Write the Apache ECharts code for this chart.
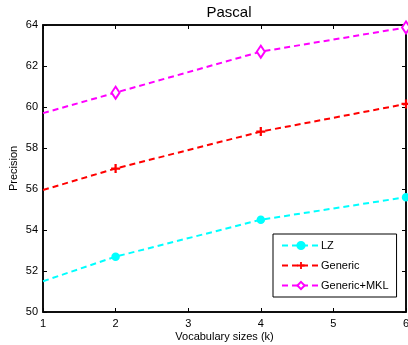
<!DOCTYPE html>
<html><head><meta charset="utf-8">
<script src="https://cdn.jsdelivr.net/npm/echarts@6/dist/echarts.min.js"></script>
<style>html,body{margin:0;padding:0;background:#fff}#c{width:408px;height:345px}</style>
</head><body><div id="c"></div>
<script>
var vocab = [1, 2, 4, 6];
var lz = [51.5, 52.7, 54.5, 55.6];
var generic = [55.95, 57.0, 58.8, 60.15];
var mkl = [59.7, 60.7, 62.7, 63.88];
var xTicks = [1, 2, 3, 4, 5, 6];
var yTicks = [50, 52, 54, 56, 58, 60, 62, 64];

var FONT = '"Liberation Sans", Arial, sans-serif';
var plus = 'path://M3,0H5V3H8V5H5V8H3V5H0V3H3Z';
function mk(xs, ys) {
  return xs.map(function (x, i) {
    var d = { value: [x, ys[i]] };
    if (i === 0) d.symbol = 'none';
    return d;
  });
}
function ser(name, ys, color, symbol, size, extra) {
  var s = {
    name: name, type: 'line', data: mk(vocab, ys),
    symbol: symbol, symbolSize: size, showAllSymbol: true,
    lineStyle: { color: color, width: 2, type: [6, 4] },
    itemStyle: { color: color, borderColor: color, borderWidth: 1.5 },
    emphasis: { disabled: true }, z: 3
  };
  for (var k in extra) s[k] = extra[k];
  return s;
}
var chart = echarts.init(document.getElementById('c'), null, { renderer: 'canvas' });
var axLine = { show: true, lineStyle: { color: '#000', width: 1.5 } };
chart.setOption({
  animation: false,
  textStyle: { fontFamily: FONT },
  title: { text: 'Pascal', left: 224, textAlign: 'center', top: 0,
    textStyle: { fontFamily: FONT, fontSize: 15, fontWeight: 'normal', color: '#000' } },
  grid: { left: 43, right: 2, top: 25, bottom: 33, show: true, borderColor: '#000', borderWidth: 1.5,
    containLabel: false, outerBoundsMode: 'none' },
  xAxis: [{
    type: 'value', min: 1, max: 6, interval: 1, position: 'bottom',
    axisLine: axLine, splitLine: { show: false },
    axisTick: { inside: true, length: 4, lineStyle: { color: '#000' } },
    axisLabel: { color: '#000', fontSize: 11, fontFamily: FONT, margin: 6,
      formatter: function (v) { return xTicks.indexOf(v) >= 0 ? String(v) : ''; } },
    name: 'Vocabulary sizes (k)', nameLocation: 'middle', nameGap: 19, nameMoveOverlap: false,
    nameTextStyle: { color: '#000', fontSize: 11, fontFamily: FONT }
  }, {
    type: 'value', min: 1, max: 6, interval: 1, position: 'top',
    axisLine: axLine, splitLine: { show: false },
    axisTick: { inside: true, length: 4, lineStyle: { color: '#000' } },
    axisLabel: { show: false }
  }],
  yAxis: [{
    type: 'value', min: 50, max: 64, interval: 2, position: 'left',
    axisLine: axLine, splitLine: { show: false },
    axisTick: { inside: true, length: 4, lineStyle: { color: '#000' } },
    axisLabel: { color: '#000', fontSize: 11, fontFamily: FONT, margin: 5,
      formatter: function (v) { return yTicks.indexOf(v) >= 0 ? String(v) : ''; } },
    name: 'Precision', nameLocation: 'middle', nameGap: 24, nameRotate: 90, nameMoveOverlap: false,
    nameTextStyle: { color: '#000', fontSize: 11, fontFamily: FONT }
  }, {
    type: 'value', min: 50, max: 64, interval: 2, position: 'right',
    axisLine: axLine, splitLine: { show: false },
    axisTick: { inside: true, length: 4, lineStyle: { color: '#000' } },
    axisLabel: { show: false }
  }],
  legend: {
    left: 273, top: 234, width: 120, orient: 'vertical',
    backgroundColor: '#fff', borderColor: '#000', borderWidth: 1,
    padding: [6, 8, 6, 8], itemGap: 9, itemWidth: 38, itemHeight: 9,
    textStyle: { color: '#000', fontSize: 11, fontFamily: FONT, padding: [0, 6, 0, -4] },
    selectedMode: false,
    data: ['LZ', 'Generic', 'Generic+MKL']
  },
  series: [
    ser('LZ', lz, '#00ffff', 'circle', 7, {}),
    ser('Generic', generic, '#ff0000', plus, 9, { itemStyle: { color: '#ff0000', borderWidth: 0 } }),
    ser('Generic+MKL', mkl, '#ff00ff', 'diamond', [8, 12], { itemStyle: { color: '#fff', borderColor: '#ff00ff', borderWidth: 2 } })
  ]
});
</script></body></html>
